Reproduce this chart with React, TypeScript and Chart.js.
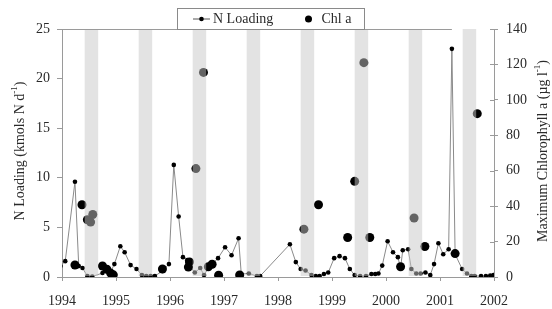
import React, { useEffect, useRef } from "react";
import { Chart, registerables } from "chart.js";

Chart.register(...registerables);

// ---- Data ----
const nYears = [
  1993.97, 1994.06, 1994.24, 1994.31, 1994.38, 1994.47, 1994.56, 1994.75, 1994.83, 1994.9, 1994.97,
  1995.08, 1995.16, 1995.27, 1995.38, 1995.48, 1995.56, 1995.64, 1995.72, 1995.86, 1995.98,
  1996.07, 1996.16, 1996.24, 1996.32, 1996.38, 1996.46, 1996.56, 1996.63, 1996.72, 1996.8, 1996.89,
  1997.02, 1997.14, 1997.27, 1997.32, 1997.46, 1997.61, 1997.67,
  1998.22, 1998.33, 1998.42, 1998.51, 1998.62, 1998.7, 1998.77, 1998.85, 1998.93,
  1999.04, 1999.14, 1999.24, 1999.33, 1999.42, 1999.52, 1999.63, 1999.73, 1999.8, 1999.86, 1999.93,
  2000.03, 2000.13, 2000.22, 2000.27, 2000.31, 2000.41, 2000.47, 2000.56, 2000.64, 2000.73, 2000.82, 2000.89, 2000.97,
  2001.06, 2001.16, 2001.22, 2001.28, 2001.41, 2001.5, 2001.58, 2001.64, 2001.76, 2001.85, 2001.93, 2001.99,
];
const nValues = [
  1.1, 1.6, 9.6, 1.1, 0.9, 0.1, 0.05, 0.4, 0.8, 0.5, 1.3,
  3.1, 2.5, 1.2, 0.8, 0.2, 0.1, 0.1, 0.1, 0.6, 1.3,
  11.3, 6.1, 2.0, 1.7, 1.0, 0.45, 0.9, 0.2, 1.0, 1.4, 1.9,
  3.0, 2.2, 3.9, 0.3, 0.35, 0.1, 0.1,
  3.3, 1.5, 0.8, 0.65, 0.2, 0.1, 0.1, 0.3, 0.45,
  1.9, 2.1, 1.9, 0.8, 0.2, 0.1, 0.1, 0.3, 0.3, 0.35, 1.15,
  3.6, 2.5, 2.0, 0.9, 2.7, 2.8, 0.8, 0.35, 0.35, 0.45, 0.2, 1.3, 3.4,
  2.3, 2.8, 23.0, 2.3, 0.8, 0.35, 0.1, 0.1, 0.1, 0.1, 0.15, 0.2,
];

const chlYears = [
  1994.24, 1994.37, 1994.47, 1994.53, 1994.57, 1994.75, 1994.83, 1994.9, 1994.95,
  1995.86, 1996.34, 1996.36, 1996.48, 1996.62, 1996.71, 1996.78, 1996.9, 1997.29,
  1998.48, 1998.75, 1999.29, 1999.42, 1999.59, 1999.7,
  2000.27, 2000.52, 2000.72, 2001.28, 2001.69,
];
const chlValues = [
  6.8, 40.8, 32.3, 31.0, 35.3, 6.2, 4.4, 2.2, 1.2,
  4.5, 5.6, 8.5, 61.2, 115.5, 5.8, 7.2, 1.0, 1.1,
  27.0, 40.8, 22.3, 54.0, 121.0, 22.3,
  5.8, 33.3, 17.2, 13.2, 92.2,
];

const summerYears = [1994, 1995, 1996, 1997, 1998, 1999, 2000, 2001];
const summerStart = 0.42;
const summerEnd = 0.67;

const yearTicks = [1994, 1995, 1996, 1997, 1998, 1999, 2000, 2001, 2002];
const leftTicks = [0, 5, 10, 15, 20, 25];
const rightTicks = [0, 20, 40, 60, 80, 100, 120, 140];

const seriesNames = ["N Loading", "Chl a"];
const leftTitle = [{ t: "N Loading (kmols N d" }, { t: "-1", sup: true }, { t: ")" }];
const rightTitle = [{ t: "Maximum Chlorophyll a (\u00b5g l" }, { t: "-1", sup: true }, { t: ")" }];
const topLineEnd = 2001.22;

const FONT = "'Liberation Serif', 'Times New Roman', serif";
const TEXT = "#2a2a2a";
const AXIS = "#9a9a9a";

function drawRich(ctx: CanvasRenderingContext2D, parts: { t: string; sup?: boolean }[], cx: number, cy: number, size: number) {
  const supSize = Math.round(size * 0.65);
  let total = 0;
  const widths = parts.map((p) => {
    ctx.font = `${p.sup ? supSize : size}px ${FONT}`;
    const w = ctx.measureText(p.t).width;
    total += w;
    return w;
  });
  ctx.save();
  ctx.translate(cx, cy);
  ctx.rotate(-Math.PI / 2);
  ctx.fillStyle = TEXT;
  ctx.textBaseline = "middle";
  ctx.textAlign = "left";
  let x = -total / 2;
  parts.forEach((p, i) => {
    ctx.font = `${p.sup ? supSize : size}px ${FONT}`;
    ctx.fillText(p.t, x, p.sup ? -5 : 0);
    x += widths[i];
  });
  ctx.restore();
}

const decorPlugin = {
  id: "decor",
  afterDatasetsDraw(chart: any) {
    const { ctx, chartArea, scales } = chart;
    const xs = scales.x;
    ctx.save();
    ctx.beginPath();
    ctx.rect(chartArea.left, chartArea.top, chartArea.right - chartArea.left, chartArea.bottom - chartArea.top - 1);
    ctx.clip();
    ctx.fillStyle = "rgba(200,200,200,0.5)";
    summerYears.forEach((y) => {
      const a = xs.getPixelForValue(y + summerStart);
      const b = xs.getPixelForValue(y + summerEnd);
      ctx.fillRect(a, chartArea.top, b - a, chartArea.bottom - chartArea.top);
    });
    ctx.restore();
  },
  afterDraw(chart: any) {
    const { ctx, chartArea, scales } = chart;
    // top line
    ctx.save();
    ctx.strokeStyle = AXIS;
    ctx.lineWidth = 1;
    ctx.beginPath();
    ctx.moveTo(chartArea.left - 4, Math.round(chartArea.top) + 0.5);
    ctx.lineTo(scales.x.getPixelForValue(topLineEnd), Math.round(chartArea.top) + 0.5);
    ctx.stroke();
    // right axis inward tick marks
    scales.y2.ticks.forEach((t: any) => {
      const py = Math.round(scales.y2.getPixelForValue(t.value)) + 0.5;
      ctx.beginPath();
      ctx.moveTo(chartArea.right - 4, py);
      ctx.lineTo(chartArea.right, py);
      ctx.stroke();
    });
    ctx.restore();

    // axis titles
    drawRich(ctx, leftTitle, 20, 151, 14);
    drawRich(ctx, rightTitle, 543, 151, 14);

    // legend
    ctx.save();
    const lx = 177.5, ly = 8.5, lw = 187, lh = 21;
    ctx.fillStyle = "#fff";
    ctx.fillRect(lx, ly, lw, lh);
    ctx.strokeStyle = "#8a8a8a";
    ctx.lineWidth = 1;
    ctx.strokeRect(lx, ly, lw, lh);
    const cy = ly + lh / 2;
    ctx.strokeStyle = "#555";
    ctx.beginPath();
    ctx.moveTo(193, cy);
    ctx.lineTo(210, cy);
    ctx.stroke();
    ctx.fillStyle = "#000";
    ctx.beginPath();
    ctx.arc(201.5, cy, 2.3, 0, Math.PI * 2);
    ctx.fill();
    ctx.beginPath();
    ctx.arc(308.5, cy, 3.5, 0, Math.PI * 2);
    ctx.fill();
    ctx.fillStyle = TEXT;
    ctx.font = `14px ${FONT}`;
    ctx.textBaseline = "middle";
    ctx.textAlign = "left";
    ctx.fillText(seriesNames[0], 213, cy + 0.5);
    ctx.fillText(seriesNames[1], 321.5, cy + 0.5);
    ctx.restore();
  },
};

export default function App() {
  const ref = useRef<HTMLCanvasElement | null>(null);
  useEffect(() => {
    if (!ref.current) return;
    const chart = new Chart(ref.current, {
      type: "scatter",
      data: {
        datasets: [
          {
            type: "scatter",
            label: seriesNames[1],
            data: chlYears.map((x, i) => ({ x, y: chlValues[i] })),
            yAxisID: "y2",
            pointRadius: 4.5,
            pointBackgroundColor: "#000",
            pointBorderWidth: 0,
            showLine: false,
            order: 1,
          } as any,
          {
            type: "line",
            label: seriesNames[0],
            data: nYears.map((x, i) => ({ x, y: nValues[i] })),
            yAxisID: "y",
            borderColor: "#8a8a8a",
            borderWidth: 1,
            pointRadius: 2.3,
            pointBackgroundColor: "#000",
            pointBorderWidth: 0,
            tension: 0,
            showLine: true,
            fill: false,
            order: 2,
          } as any,
        ],
      },
      options: {
        animation: false,
        responsive: false,
        layout: { padding: { top: 29, left: 0, right: 0, bottom: 0 } },
        plugins: { legend: { display: false }, tooltip: { enabled: false } },
        scales: {
          x: {
            type: "linear",
            min: 1994,
            max: 2002,
            afterBuildTicks: (s: any) => {
              s.ticks = yearTicks.map((v) => ({ value: v }));
            },
            afterFit: (s: any) => {
              s.height = 32;
            },
            ticks: {
              font: { family: FONT, size: 14 },
              color: TEXT,
              padding: 12,
              maxRotation: 0,
              callback: (v: any) => String(v),
            },
            grid: { drawOnChartArea: false, tickLength: 4, color: AXIS },
            border: { color: AXIS },
          },
          y: {
            position: "left",
            min: 0,
            max: 25,
            afterBuildTicks: (s: any) => {
              s.ticks = leftTicks.map((v) => ({ value: v }));
            },
            afterFit: (s: any) => {
              s.width = 62;
            },
            ticks: {
              font: { family: FONT, size: 14 },
              color: TEXT,
              padding: 7,
              callback: (v: any) => String(v),
            },
            grid: { drawOnChartArea: false, tickLength: 5, color: AXIS },
            border: { color: AXIS },
          },
          y2: {
            position: "right",
            min: 0,
            max: 140,
            afterBuildTicks: (s: any) => {
              s.ticks = rightTicks.map((v) => ({ value: v }));
            },
            afterFit: (s: any) => {
              s.width = 58;
            },
            ticks: {
              font: { family: FONT, size: 14 },
              color: TEXT,
              padding: 8,
              callback: (v: any) => String(v),
            },
            grid: { drawOnChartArea: false, tickLength: 4, color: AXIS },
            border: { color: AXIS },
          },
        },
      } as any,
      plugins: [decorPlugin],
    });
    return () => chart.destroy();
  }, []);
  return (
    <div style={{ position: "absolute", left: 0, top: 0, width: 552, height: 309, background: "#fff" }}>
      <canvas ref={ref} width={552} height={309} style={{ display: "block" }} />
    </div>
  );
}
